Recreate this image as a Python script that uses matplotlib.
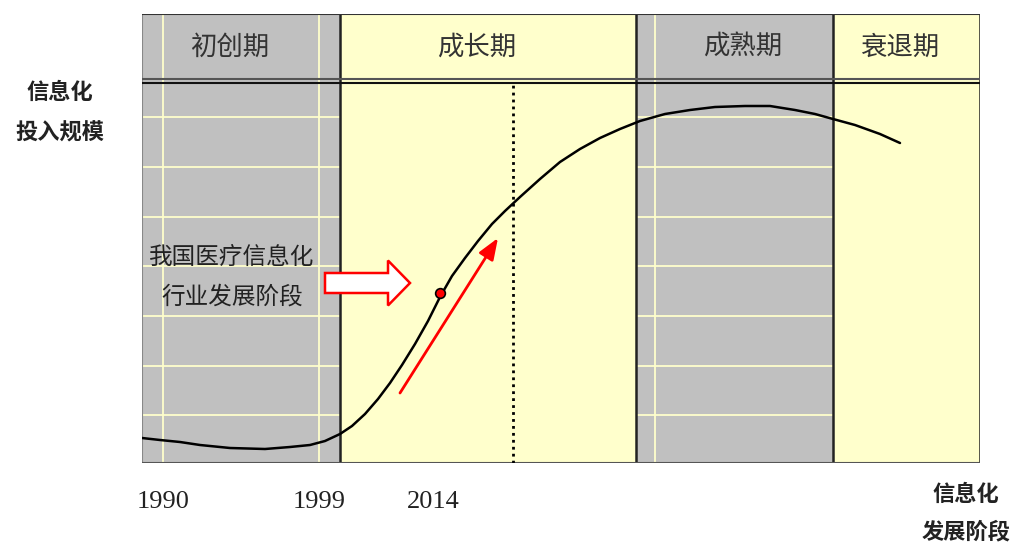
import numpy as np
import matplotlib.pyplot as plt
from matplotlib.patches import Rectangle, FancyArrow

plt.rcParams['font.family'] = ['Noto Sans CJK SC', 'DejaVu Sans']

# stage bands (chart units, x from left edge of plot)
stage_names = ['初创期', '成长期', '成熟期', '衰退期']
stage_edges = [0, 198, 494, 691, 838]
stage_colors = ['#C0C0C0', '#FFFFCC', '#C0C0C0', '#FFFFCC']
stage_label_x = [88, 335, 601, 758]

# year ticks
years = ['1990', '1999', '2014']
year_x = [21, 177, 291]

# S-curve of investment scale
curve_x = [0, 18, 38, 58, 88, 123, 148, 168, 183, 198, 210, 223, 236, 248,
           260, 273, 286, 298, 310, 323, 336, 350, 363, 378, 398, 418, 438,
           458, 478, 498, 523, 548, 573, 603, 628, 653, 673, 691, 713, 738, 758]
curve_y = [25, 23, 21, 18, 15, 14, 16, 18, 22, 29, 37, 49, 64, 80,
           98, 119, 142, 166, 187, 205, 222, 239, 252, 266, 284, 301, 314,
           325, 334, 342, 349, 353, 356, 357, 357, 353, 349, 344, 338, 329, 320]

# current position (2014) and the "today" dotted line
point_x, point_y = 298, 170
now_x = 371

# pale grid lines inside the gray bands
grid_y = [48, 97, 147, 197, 246, 296, 346]
grid_x = [21, 177, 513]

header_y = 382

fig = plt.figure(figsize=(10.2, 5.49), dpi=100)
ax = fig.add_axes([142 / 1020, 86 / 549, 838 / 1020, 449 / 549])
ax.set_xlim(0, 838)
ax.set_ylim(0, 449)

for i in range(len(stage_names)):
    ax.add_patch(Rectangle((stage_edges[i], 0), stage_edges[i + 1] - stage_edges[i], 449,
                           facecolor=stage_colors[i], edgecolor='none', zorder=0))
    ax.text(stage_label_x[i], 416, stage_names[i], ha='center', va='center',
            fontsize=19, color='#333333', zorder=5)

# pale lines (only in gray bands)
for i in range(len(stage_names)):
    if stage_colors[i] != '#C0C0C0':
        continue
    x0, x1 = stage_edges[i], stage_edges[i + 1]
    for gy in grid_y:
        ax.plot([x0, x1], [gy, gy], color='#FFFFCC', lw=1.3, zorder=1)
    for gx in grid_x:
        if x0 < gx < x1:
            ax.plot([gx, gx], [0, 449], color='#FFFFCC', lw=1.3, zorder=1)

# stage boundaries
for e in stage_edges[1:]:
    ax.plot([e, e], [0, 449], color='#222222', lw=1.8, zorder=3)
ax.plot([0, 0], [0, 449], color='#888888', lw=1.5, zorder=3)
ax.plot([0, 838], [449, 449], color='#333333', lw=1.5, zorder=3)
ax.plot([0, 838], [0, 0], color='#555555', lw=1.5, zorder=3)

# header double line
ax.plot([0, 838], [header_y + 2, header_y + 2], color='#555555', lw=1.5, zorder=3)
ax.plot([0, 838], [header_y - 1.5, header_y - 1.5], color='#111111', lw=1.5, zorder=3)

# dotted "now" line
ax.plot([now_x, now_x], [0, header_y - 1.5], color='black', lw=2, ls=(0, (1, 1.5)), zorder=3)

# curve
ax.plot(curve_x, curve_y, color='black', lw=1.8, zorder=4,
        solid_capstyle='round', solid_joinstyle='round')
ax.plot(point_x, point_y, 'o', color='red', markeredgecolor='black', markersize=7,
        markeredgewidth=1.2, zorder=6)

# red growth arrow
ax.annotate('', xy=(356, 225), xytext=(258, 70),
            arrowprops=dict(arrowstyle='-|>,head_length=1.3,head_width=0.5',
                            color='red', lw=2, shrinkA=0, shrinkB=0), zorder=6)

# hollow block arrow
ax.add_patch(FancyArrow(183, 180, 85, 0, width=20, head_width=45, head_length=22,
                        length_includes_head=True, facecolor='white', edgecolor='red',
                        lw=1.8, zorder=6))

ax.text(90, 206, '我国医疗信息化', ha='center', va='center', fontsize=17,
        color='#222222', zorder=6)
ax.text(90, 166, '行业发展阶段', ha='center', va='center', fontsize=17,
        color='#222222', zorder=6)

# year labels as ticks
ax.set_xticks(year_x)
ax.set_xticklabels(years, fontsize=19, family='Liberation Serif', color='#222222')
ax.tick_params(axis='x', length=0, pad=20)
ax.set_yticks([])
for s in ax.spines.values():
    s.set_visible(False)

fig.text(60 / 1020, 1 - 92 / 549, '信息化', ha='center', va='center', fontsize=16,
         fontweight='bold', color='#222222')
fig.text(60 / 1020, 1 - 133 / 549, '投入规模', ha='center', va='center', fontsize=16,
         fontweight='bold', color='#222222')
fig.text(966 / 1020, 1 - 494 / 549, '信息化', ha='center', va='center', fontsize=16,
         fontweight='bold', color='#222222')
fig.text(966 / 1020, 1 - 532 / 549, '发展阶段', ha='center', va='center', fontsize=16,
         fontweight='bold', color='#222222')

fig.savefig('out.png', dpi=100, facecolor='white')
